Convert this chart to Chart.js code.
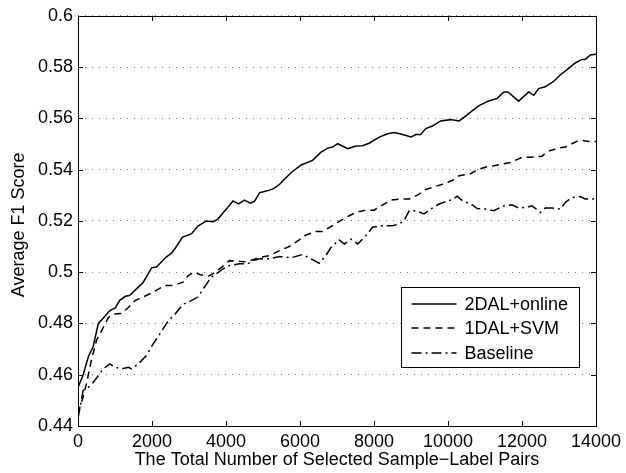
<!DOCTYPE html>
<html><head><meta charset="utf-8">
<script src="https://cdn.jsdelivr.net/npm/chart.js@4/dist/chart.umd.min.js"></script>
<style>html,body{margin:0;padding:0;background:#fff}canvas{display:block}</style>
</head><body>
<canvas id="c" width="626" height="473"></canvas>
<script>
// ---- data ----
const seriesNames = ['2DAL+online', '1DAL+SVM', 'Baseline'];
const xTickValues = [0, 2000, 4000, 6000, 8000, 10000, 12000, 14000];
const yTickValues = [0.44, 0.46, 0.48, 0.5, 0.52, 0.54, 0.56, 0.58, 0.6];
const xAxisTitle = 'The Total Number of Selected Sample\u2212Label Pairs';
const yAxisTitle = 'Average F1 Score';

const online2dalX = [0,140,280,410,550,680,860,1000,1130,1270,1400,1580,1760,1870,1990,2120,2390,2530,2660,2820,3070,3240,3470,3650,3780,4010,4190,4340,4500,4660,4770,4910,5180,5310,5450,5530,5760,6030,6340,6570,6750,6880,7020,7290,7510,7690,7870,8140,8370,8550,8770,9000,9130,9260,9400,9580,9800,10070,10300,10480,10660,10840,11100,11330,11510,11620,11910,12180,12320,12450,12630,12860,13040,13220,13440,13620,13710,13850,14000];
const online2dalY = [0.455,0.460,0.467,0.471,0.480,0.482,0.485,0.486,0.489,0.4905,0.491,0.4935,0.496,0.4987,0.5017,0.502,0.506,0.5074,0.510,0.5136,0.515,0.518,0.520,0.5197,0.5207,0.5246,0.5278,0.5266,0.5281,0.5269,0.5276,0.531,0.532,0.5328,0.5343,0.5356,0.5388,0.5418,0.5436,0.5468,0.5484,0.5488,0.5501,0.5482,0.5492,0.5493,0.5503,0.5527,0.554,0.5545,0.5537,0.5527,0.5537,0.5537,0.556,0.557,0.559,0.5595,0.559,0.561,0.563,0.565,0.5668,0.5678,0.5703,0.5703,0.5667,0.5703,0.569,0.5716,0.5723,0.5745,0.577,0.579,0.5816,0.583,0.583,0.5847,0.585];

const svm1dalX = [0,140,230,370,500,640,820,950,1180,1360,1540,1760,2030,2350,2570,2840,2980,3150,3290,3510,3650,3800,4100,4550,4910,5180,5450,5710,5980,6120,6430,6610,6880,7060,7330,7510,7780,8000,8280,8460,8720,8950,9220,9350,9670,9850,10120,10300,10610,10790,11060,11240,11550,11690,12000,12230,12540,12680,12990,13170,13490,13620,13800,14000];
const svm1dalY = [0.445,0.4514,0.4566,0.4662,0.4734,0.4772,0.4823,0.4837,0.4839,0.4862,0.4889,0.4903,0.4922,0.4948,0.4948,0.4961,0.4987,0.500,0.4991,0.4983,0.4994,0.501,0.5045,0.504,0.5058,0.5065,0.5084,0.510,0.5126,0.5142,0.5159,0.5159,0.5181,0.5198,0.522,0.5233,0.5242,0.5242,0.5266,0.5281,0.5285,0.5285,0.5304,0.532,0.5335,0.5343,0.5358,0.5376,0.5384,0.540,0.5411,0.5415,0.5424,0.5428,0.5448,0.5448,0.5452,0.547,0.5485,0.5488,0.5511,0.5514,0.551,0.551];

const baselineX = [0,140,280,410,550,680,860,1000,1180,1360,1450,1630,1850,2030,2210,2440,2620,2840,3020,3240,3420,3600,3740,3920,4100,4370,4590,4730,4910,5180,5450,5760,6070,6300,6520,6700,6840,7060,7200,7380,7560,7780,7960,8190,8500,8680,8810,8950,9130,9350,9530,9760,9940,10120,10250,10390,10660,10790,11020,11240,11510,11730,11910,12140,12270,12500,12630,12810,13040,13170,13350,13580,13710,14000];
const baselineY = [0.443,0.4539,0.4551,0.457,0.4597,0.4623,0.4642,0.4629,0.4623,0.4629,0.4623,0.4642,0.4675,0.472,0.4759,0.481,0.4836,0.4875,0.4886,0.4903,0.4942,0.4981,0.4994,0.5013,0.5026,0.5033,0.5033,0.5045,0.5052,0.5052,0.5061,0.5056,0.5069,0.5052,0.5035,0.5065,0.5097,0.5126,0.511,0.5129,0.511,0.5142,0.5175,0.5181,0.5181,0.5188,0.520,0.524,0.524,0.5227,0.5246,0.5266,0.5275,0.5283,0.5296,0.5279,0.5262,0.5248,0.5246,0.524,0.5259,0.5263,0.525,0.5253,0.5259,0.5233,0.525,0.525,0.5246,0.5272,0.5291,0.5295,0.5285,0.5285];

// ---- chart ----
const FONT = '"Liberation Sans", Arial, Helvetica, sans-serif';
const FS = 18;
const toPts = (xs, ys) => xs.map((x, i) => ({x: x, y: ys[i]}));

const frame = {
  id: 'matlabFrame',
  afterDatasetsDraw(chart) {
    const {ctx, chartArea: a, scales} = chart;
    ctx.save();
    ctx.strokeStyle = '#000';
    ctx.lineWidth = 1;
    ctx.setLineDash([]);
    // box
    ctx.strokeRect(Math.round(a.left) + 0.5, Math.round(a.top) + 0.5,
                   Math.round(a.right - a.left), Math.round(a.bottom - a.top));
    // inward ticks
    const L = 5;
    ctx.beginPath();
    scales.x.ticks.forEach(t => {
      const px = Math.round(scales.x.getPixelForValue(t.value)) + 0.5;
      ctx.moveTo(px, a.bottom); ctx.lineTo(px, a.bottom - L);
      ctx.moveTo(px, a.top); ctx.lineTo(px, a.top + L);
    });
    scales.y.ticks.forEach(t => {
      const py = Math.round(scales.y.getPixelForValue(t.value)) + 0.5;
      ctx.moveTo(a.left, py); ctx.lineTo(a.left + L, py);
      ctx.moveTo(a.right, py); ctx.lineTo(a.right - L, py);
    });
    ctx.stroke();
    // y-axis title (rotated)
    ctx.save();
    ctx.font = FS + 'px ' + FONT;
    ctx.fillStyle = '#000';
    ctx.textAlign = 'center';
    ctx.textBaseline = 'middle';
    ctx.translate(19, (a.top + a.bottom) / 2 + 4);
    ctx.rotate(-Math.PI / 2);
    ctx.fillText(yAxisTitle, 0, 0);
    ctx.restore();
    // legend
    const bx0 = Math.round(a.right - 195) + 0.5, bx1 = Math.round(a.right - 17) + 0.5;
    const by0 = Math.round(a.bottom - 139) + 0.5, by1 = Math.round(a.bottom - 59) + 0.5;
    ctx.fillStyle = '#fff';
    ctx.fillRect(bx0, by0, bx1 - bx0, by1 - by0);
    ctx.strokeRect(bx0, by0, bx1 - bx0, by1 - by0);
    ctx.font = FS + 'px ' + FONT;
    ctx.textBaseline = 'middle';
    ctx.textAlign = 'left';
    ctx.fillStyle = '#000';
    chart.data.datasets.forEach((ds, i) => {
      const ry = Math.round(by0 + 16 + i * 24.5);
      ctx.save();
      ctx.lineWidth = ds.borderWidth;
      ctx.setLineDash(ds.borderDash || []);
      ctx.beginPath();
      ctx.moveTo(bx0 + 10, ry); ctx.lineTo(bx0 + 55, ry);
      ctx.stroke();
      ctx.restore();
      ctx.fillText(ds.label, bx0 + 63, ry + 1);
    });
    ctx.restore();
  }
};

new Chart(document.getElementById('c'), {
  type: 'line',
  data: {
    datasets: [
      {label: seriesNames[0], data: toPts(online2dalX, online2dalY), borderColor: '#000', borderWidth: 1.5, borderDash: [], pointRadius: 0, tension: 0, fill: false},
      {label: seriesNames[1], data: toPts(svm1dalX, svm1dalY), borderColor: '#000', borderWidth: 1.5, borderDash: [7, 5], pointRadius: 0, tension: 0, fill: false},
      {label: seriesNames[2], data: toPts(baselineX, baselineY), borderColor: '#000', borderWidth: 1.5, borderDash: [10, 4, 2, 4], pointRadius: 0, tension: 0, fill: false}
    ]
  },
  options: {
    responsive: false,
    animation: false,
    devicePixelRatio: 1,
    layout: {padding: {left: 0, top: 15, right: 29, bottom: 0}},
    plugins: {legend: {display: false}, tooltip: {enabled: false}},
    scales: {
      x: {
        type: 'linear', min: 0, max: 14000,
        afterBuildTicks: s => { s.ticks = xTickValues.map(v => ({value: v})); },
        afterFit: s => { s.height = 47; },
        ticks: {color: '#000', font: {family: FONT, size: FS}, padding: 5, maxRotation: 0, autoSkip: false,
                callback: v => String(v)},
        grid: {display: false, drawTicks: false},
        border: {display: false},
        title: {display: true, text: xAxisTitle, color: '#000', font: {family: FONT, size: FS}, padding: {top: 0, bottom: 2}}
      },
      y: {
        type: 'linear', min: 0.44, max: 0.6,
        afterBuildTicks: s => { s.ticks = yTickValues.map(v => ({value: v})); },
        afterFit: s => { s.width = 78; },
        ticks: {color: '#000', font: {family: FONT, size: FS}, padding: 5, autoSkip: false,
                callback: v => String(Number(v.toFixed(2)))},
        grid: {display: true, drawTicks: false, color: '#777', lineWidth: 1},
        border: {display: false, dash: [1, 6]},
        title: {display: false}
      }
    }
  },
  plugins: [frame]
});
</script>
</body></html>
